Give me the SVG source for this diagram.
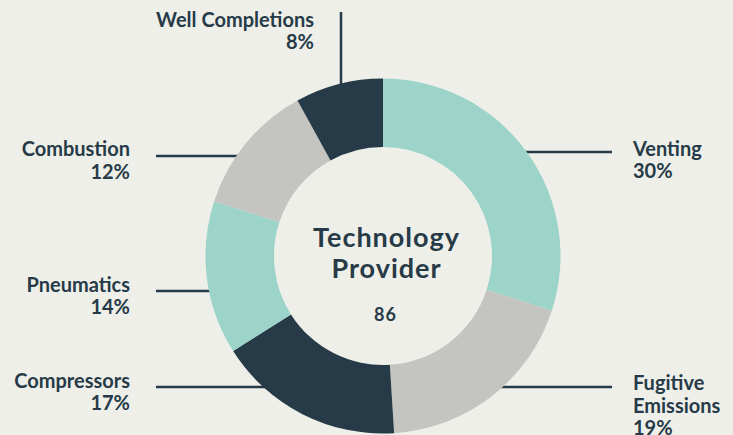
<svg xmlns="http://www.w3.org/2000/svg" width="733" height="435" viewBox="0 0 733 435">
<style>
.lbl{font-family:Lato,"Liberation Sans",sans-serif;font-weight:700;font-size:20px;fill:#263b47}
.end{text-anchor:end}
.ctr{font-family:Lato,"Liberation Sans",sans-serif;font-weight:700;fill:#263b47;text-anchor:middle}
.ln{stroke:#263b47;stroke-width:2.5;fill:none}
.teal{fill:#9dd4ca}
.gray{fill:#c4c5c1}
.dark{fill:#263b47}
</style>
<rect width="733" height="435" fill="#efefea"/>
<g id="connectors">
<line class="ln" x1="341" y1="12" x2="341" y2="95"/>
<line class="ln" x1="156" y1="156" x2="245" y2="156"/>
<line class="ln" x1="156" y1="291" x2="220" y2="291"/>
<line class="ln" x1="156" y1="387" x2="272" y2="387"/>
<line class="ln" x1="612" y1="152" x2="520" y2="152"/>
<line class="ln" x1="612" y1="387" x2="495" y2="387"/>
</g>
<g id="venting">
<path class="teal" d="M383 78.5 A177.5 177.5 0 0 1 551.81 310.85 L486.67 289.68 A109 109 0 0 0 383 147 Z"/>
<text class="lbl" x="633" y="156">Venting</text>
<text class="lbl" x="633" y="178">30%</text>
</g>
<g id="fugitive-emissions">
<path class="gray" d="M551.81 310.85 A177.5 177.5 0 0 1 394.15 433.15 L389.84 364.79 A109 109 0 0 0 486.67 289.68 Z"/>
<text class="lbl" x="633" y="390">Fugitive</text>
<text class="lbl" x="633" y="412.5">Emissions</text>
<text class="lbl" x="633" y="434.5">19%</text>
</g>
<g id="compressors">
<path class="dark" d="M394.15 433.15 A177.5 177.5 0 0 1 233.13 351.11 L290.97 314.41 A109 109 0 0 0 389.84 364.79 Z"/>
<text class="lbl end" x="130" y="388">Compressors</text>
<text class="lbl end" x="130" y="410">17%</text>
</g>
<g id="pneumatics">
<path class="teal" d="M233.13 351.11 A177.5 177.5 0 0 1 214.19 201.15 L279.33 222.32 A109 109 0 0 0 290.97 314.41 Z"/>
<text class="lbl end" x="130" y="292">Pneumatics</text>
<text class="lbl end" x="130" y="314">14%</text>
</g>
<g id="combustion">
<path class="gray" d="M214.19 201.15 A177.5 177.5 0 0 1 297.49 100.46 L330.49 160.48 A109 109 0 0 0 279.33 222.32 Z"/>
<text class="lbl end" x="130" y="156">Combustion</text>
<text class="lbl end" x="130" y="179">12%</text>
</g>
<g id="well-completions">
<path class="dark" d="M297.49 100.46 A177.5 177.5 0 0 1 383 78.5 L383 147 A109 109 0 0 0 330.49 160.48 Z"/>
<text class="lbl end" x="314" y="27">Well Completions</text>
<text class="lbl end" x="314" y="49">8%</text>
</g>
<g id="center">
<text class="ctr" x="386.5" y="247" font-size="27" letter-spacing="1">Technology</text>
<text class="ctr" x="386.5" y="278" font-size="27" letter-spacing="1">Provider</text>
<text class="ctr" x="385.5" y="321" font-size="18" letter-spacing="1">86</text>
</g>
</svg>
